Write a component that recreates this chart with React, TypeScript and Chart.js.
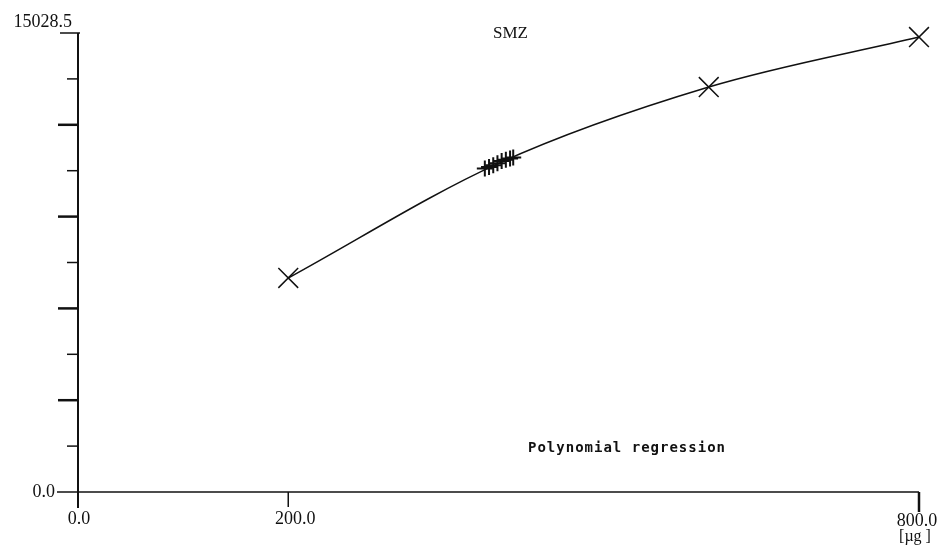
import React, { useEffect, useRef } from "react";
import { Chart, registerables } from "chart.js";

Chart.register(...registerables);

const TITLE = "SMZ";
const NOTE = "Polynomial regression";
const X_MIN = 0;
const X_MAX = 800;
const Y_MIN = 0;
const Y_MAX = 15028.5;
const X_TICK_LABELS = ["0.0", "200.0", "800.0"];
const X_TICK_VALUES = [0, 200, 800];
const X_UNIT = "[µg ]";
const Y_TICK_LABELS = ["0.0", "15028.5"];
const Y_MAJOR_STEP = 3005.7;

// calibration standards (X markers)
const stdX = [200, 600, 800];
const stdY = [7007, 13260, 14897];
// sample measurements (+ markers)
const sampleX = [387, 391, 395, 399, 403, 407, 411, 414];
const sampleY = [10590, 10640, 10700, 10760, 10840, 10880, 10920, 10950];
// regression curve support points
const curveX = [200, 400, 600, 800];
const curveY = [7007, 10760, 13260, 14897];

const INK = "#111";

const axesPlugin = {
  id: "oldAxes",
  afterDraw(chart: any) {
    const { ctx, chartArea, scales } = chart;
    const xs = scales.x;
    const ys = scales.y;
    const x0 = xs.getPixelForValue(X_MIN);
    const x1 = xs.getPixelForValue(X_MAX);
    const y0 = ys.getPixelForValue(Y_MIN);
    const y1 = ys.getPixelForValue(Y_MAX);
    ctx.save();
    ctx.strokeStyle = INK;
    ctx.fillStyle = INK;
    ctx.lineCap = "butt";
    // y axis
    ctx.lineWidth = 2;
    ctx.beginPath();
    ctx.moveTo(x0, y1);
    ctx.lineTo(x0, y0 + 16);
    ctx.stroke();
    // top cap
    ctx.lineWidth = 1.5;
    ctx.beginPath();
    ctx.moveTo(x0 - 18, y1);
    ctx.lineTo(x0 + 2, y1);
    ctx.stroke();
    // y ticks
    for (let i = 1; i < 10; i++) {
      const v = (i * Y_MAJOR_STEP) / 2;
      if (v >= Y_MAX - 1) break;
      const py = ys.getPixelForValue(v);
      const major = i % 2 === 0;
      ctx.lineWidth = major ? 2.5 : 1.5;
      ctx.beginPath();
      ctx.moveTo(x0 - (major ? 20 : 11), py);
      ctx.lineTo(x0, py);
      ctx.stroke();
    }
    // x axis
    ctx.lineWidth = 1.5;
    ctx.beginPath();
    ctx.moveTo(x0 - 21, y0);
    ctx.lineTo(x1, y0);
    ctx.stroke();
    // x ticks
    X_TICK_VALUES.forEach((v, i) => {
      if (v === X_MIN) return;
      const px = xs.getPixelForValue(v);
      ctx.lineWidth = i === X_TICK_VALUES.length - 1 ? 2.5 : 1.5;
      ctx.beginPath();
      ctx.moveTo(px, y0);
      ctx.lineTo(px, y0 + (i === X_TICK_VALUES.length - 1 ? 20 : 15));
      ctx.stroke();
    });
    // labels
    ctx.font = "18px 'Liberation Serif'";
    ctx.textBaseline = "middle";
    ctx.textAlign = "right";
    ctx.fillText(Y_TICK_LABELS[0], x0 - 23, y0);
    ctx.fillText(Y_TICK_LABELS[1], x0 - 6, y1 - 11);
    ctx.textAlign = "center";
    X_TICK_LABELS.forEach((t, i) => {
      const px = xs.getPixelForValue(X_TICK_VALUES[i]);
      const dx = i === 0 ? 1 : i === X_TICK_LABELS.length - 1 ? -2 : 7;
      const dy = i === X_TICK_LABELS.length - 1 ? 29 : 27;
      ctx.fillText(t, px + dx, y0 + dy);
    });
    ctx.font = "16px 'Liberation Serif'";
    ctx.fillText(X_UNIT, x1 - 4, y0 + 45);
    // title
    ctx.font = "17px 'Liberation Serif'";
    ctx.fillText(TITLE, (chartArea.left + chartArea.right) / 2 + 12, chartArea.top + 1);
    // note
    ctx.font = "bold 14px 'DejaVu Sans Mono'";
    (ctx as any).letterSpacing = "1px";
    ctx.fillText(NOTE, 627, 448);
    ctx.restore();
  },
};

export default function App() {
  const ref = useRef<HTMLCanvasElement | null>(null);
  useEffect(() => {
    document.body.style.margin = "0";
    const canvas = ref.current!;
    const chart = new Chart(canvas, {
      type: "scatter",
      data: {
        datasets: [
          {
            type: "line",
            data: curveX.map((x, i) => ({ x, y: curveY[i] })),
            borderColor: INK,
            borderWidth: 1.5,
            pointRadius: 0,
            cubicInterpolationMode: "monotone",
            fill: false,
            clip: false,
          } as any,
          {
            data: stdX.map((x, i) => ({ x, y: stdY[i] })),
            pointStyle: "crossRot",
            pointRadius: 14,
            borderColor: INK,
            borderWidth: 1.5,
            clip: false,
          } as any,
          {
            data: sampleX.map((x, i) => ({ x, y: sampleY[i] })),
            pointStyle: "cross",
            pointRadius: 8,
            borderColor: INK,
            borderWidth: 2,
            clip: false,
          } as any,
        ],
      },
      options: {
        responsive: false,
        animation: false,
        layout: { padding: { left: 78, top: 33, right: 22, bottom: 59 } },
        plugins: { legend: { display: false }, tooltip: { enabled: false }, title: { display: false } },
        scales: {
          x: { type: "linear", min: X_MIN, max: X_MAX, display: false },
          y: { type: "linear", min: Y_MIN, max: Y_MAX, display: false },
        },
      },
      plugins: [axesPlugin],
    });
    return () => chart.destroy();
  }, []);
  return (
    <div style={{ position: "fixed", left: 0, top: 0, width: 941, height: 551, background: "#fff" }}>
      <canvas ref={ref} width={941} height={551} />
    </div>
  );
}
